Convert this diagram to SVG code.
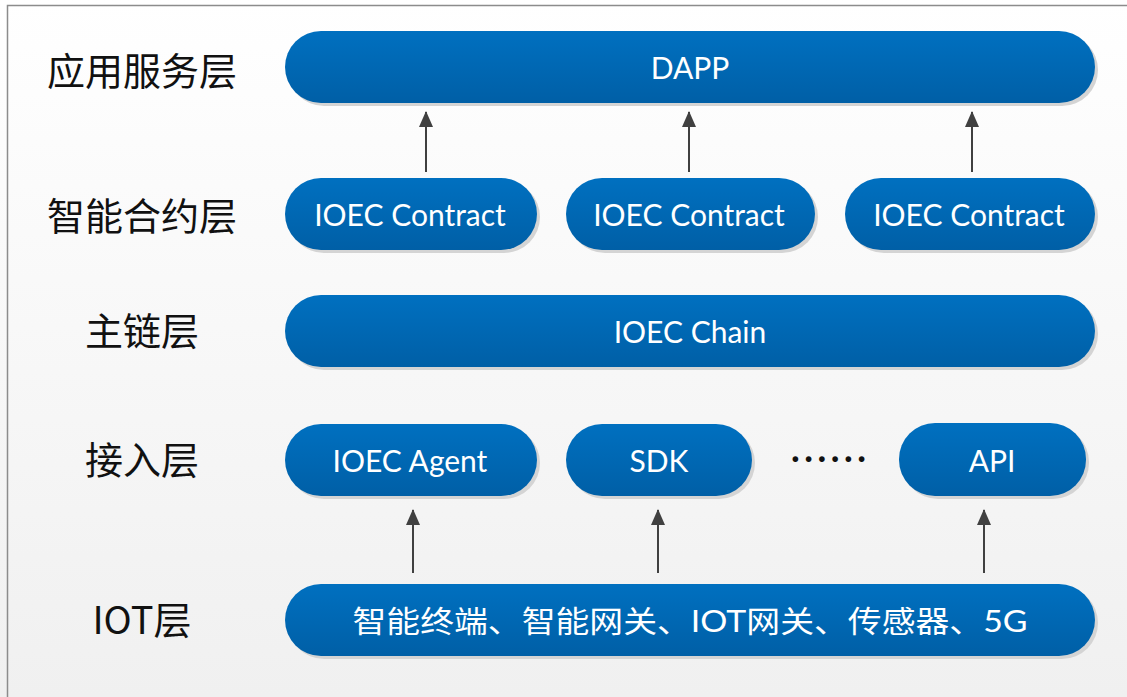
<svg xmlns="http://www.w3.org/2000/svg" width="1127" height="697" viewBox="0 0 1127 697">
<defs>
<linearGradient id="bg" x1="0" y1="0" x2="0" y2="1"><stop offset="0" stop-color="#ffffff"/><stop offset="1" stop-color="#f0f0f0"/></linearGradient>
<linearGradient id="nb" x1="0" y1="0" x2="0" y2="1"><stop offset="0" stop-color="#0070c0"/><stop offset="1" stop-color="#005fa6"/></linearGradient>
<marker id="ah" markerWidth="16" markerHeight="14" refX="15" refY="7" orient="auto" markerUnits="userSpaceOnUse" viewBox="0 0 16 14"><path d="M0,0 L16,7 L0,14 Z" fill="#404040"/></marker>
<style>
.node rect.sh{fill:#d4d4d4}
.node rect.bd{fill:url(#nb)}
.nt{font-family:Lato,"Noto Sans CJK SC",sans-serif;font-size:30px;fill:#ffffff;text-anchor:middle;dominant-baseline:central}
.lbl{font-family:"Noto Sans CJK SC",sans-serif;font-size:38px;fill:#111111;text-anchor:middle;dominant-baseline:central}
.conn line{stroke:#404040;stroke-width:2}
</style>
</defs>
<rect x="0" y="0" width="1127" height="697" fill="url(#bg)"/>
<path d="M7.5,697 L7.5,5.5 L1127,5.5" fill="none" stroke="#8c8c8c" stroke-width="1.5"/>

<g id="labels">
<text class="lbl" x="142" y="68">应用服务层</text>
<text class="lbl" x="142" y="213">智能合约层</text>
<text class="lbl" x="142" y="328">主链层</text>
<text class="lbl" x="142" y="457">接入层</text>
<text class="lbl" x="142" y="617">IOT层</text>
</g>

<g id="dapp" class="node"><rect class="sh" x="288" y="34" width="810" height="72" rx="36"/><rect class="bd" x="285" y="31" width="810" height="72" rx="36"/><text class="nt" x="690" y="67">DAPP</text></g>
<g id="contract1" class="node"><rect class="sh" x="288" y="181" width="252" height="72" rx="36"/><rect class="bd" x="285" y="178" width="252" height="72" rx="36"/><text class="nt" x="410" y="214">IOEC Contract</text></g>
<g id="contract2" class="node"><rect class="sh" x="569" y="181" width="249" height="72" rx="36"/><rect class="bd" x="566" y="178" width="249" height="72" rx="36"/><text class="nt" x="689" y="214">IOEC Contract</text></g>
<g id="contract3" class="node"><rect class="sh" x="848" y="181" width="250" height="72" rx="36"/><rect class="bd" x="845" y="178" width="250" height="72" rx="36"/><text class="nt" x="969" y="214">IOEC Contract</text></g>
<g id="chain" class="node"><rect class="sh" x="288" y="298" width="810" height="72" rx="36"/><rect class="bd" x="285" y="295" width="810" height="72" rx="36"/><text class="nt" x="690" y="331">IOEC Chain</text></g>
<g id="agent" class="node"><rect class="sh" x="288" y="427" width="252" height="72" rx="36"/><rect class="bd" x="285" y="424" width="252" height="72" rx="36"/><text class="nt" x="410" y="460">IOEC Agent</text></g>
<g id="sdk" class="node"><rect class="sh" x="569" y="427" width="186" height="72" rx="36"/><rect class="bd" x="566" y="424" width="186" height="72" rx="36"/><text class="nt" x="659" y="460">SDK</text></g>
<g id="api" class="node"><rect class="sh" x="902" y="426" width="187" height="73" rx="36"/><rect class="bd" x="899" y="423" width="187" height="73" rx="36"/><text class="nt" x="992" y="460">API</text></g>
<g id="dots"><text x="831" y="456" font-family="Lato,sans-serif" font-size="30" font-weight="bold" letter-spacing="5" fill="#111" text-anchor="middle" dominant-baseline="central">······</text></g>
<g id="iot" class="node"><rect class="sh" x="288" y="587" width="810" height="72" rx="36"/><rect class="bd" x="285" y="584" width="810" height="72" rx="36"/><text class="nt" x="690" y="620" font-size="32" textLength="675" lengthAdjust="spacingAndGlyphs">智能终端、智能网关、IOT网关、传感器、5G</text></g>

<g id="connectors" class="conn">
<line x1="426" y1="172" x2="426" y2="112" marker-end="url(#ah)"/>
<line x1="689" y1="172" x2="689" y2="112" marker-end="url(#ah)"/>
<line x1="972" y1="172" x2="972" y2="112" marker-end="url(#ah)"/>
<line x1="413" y1="573" x2="413" y2="510" marker-end="url(#ah)"/>
<line x1="658" y1="573" x2="658" y2="510" marker-end="url(#ah)"/>
<line x1="984" y1="573" x2="984" y2="510" marker-end="url(#ah)"/>
</g>
</svg>
